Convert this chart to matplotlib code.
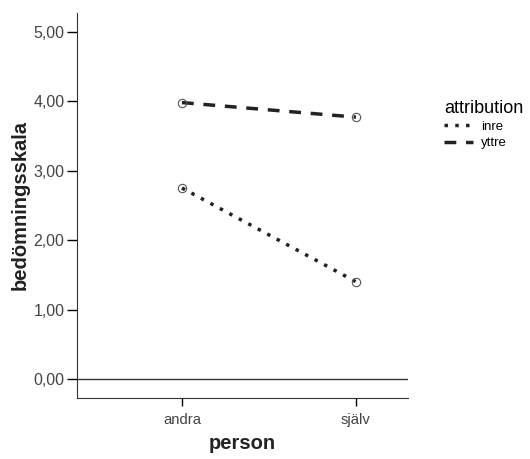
import matplotlib.pyplot as plt

plt.rcParams['font.family'] = ['Liberation Sans', 'DejaVu Sans']

persons = ["andra", "själv"]
inre = [2.75, 1.40]
yttre = [3.98, 3.77]
yticks = [0, 1, 2, 3, 4, 5]
ytick_labels = ["0,00", "1,00", "2,00", "3,00", "4,00", "5,00"]

fig = plt.figure(figsize=(5.3, 4.59), dpi=100)
ax = fig.add_axes([0.1453, 0.1329, 0.6245, 0.8388])

x = list(range(len(persons)))
ax.plot(x, inre, linestyle=(0, (1, 2.1)), color="#222222", linewidth=2.5,
        marker="o", markersize=6, markerfacecolor="none",
        markeredgecolor="#555555", markeredgewidth=0.8, label="inre")
ax.plot(x, yttre, linestyle=(0, (3.4, 2.8)), color="#222222", linewidth=2.5,
        marker="o", markersize=6, markerfacecolor="none",
        markeredgecolor="#555555", markeredgewidth=0.8, label="yttre")

ax.axhline(0, color="#333333", linewidth=1)
ax.set_xlim(-0.603, 1.299)
ax.set_ylim(-0.274, 5.27)
ax.set_xticks(x)
ax.set_xticklabels(persons, fontsize=10.7, color="#444444")
ax.set_yticks(yticks)
ax.set_yticklabels(ytick_labels, fontsize=11.5, color="#444444")
ax.tick_params(axis="y", length=7, width=1, pad=2)
ax.tick_params(axis="x", length=6, width=1, pad=5)

for s in ["top", "right"]:
    ax.spines[s].set_visible(False)
for s in ["left", "bottom"]:
    ax.spines[s].set_color("#333333")

ax.set_xlabel("person", fontsize=14.5, fontweight="bold", color="#222222", labelpad=5)
ax.set_ylabel("bedömningsskala", fontsize=14.5, fontweight="bold", color="#222222", labelpad=3)

leg = fig.legend(title="attribution", loc="upper left", bbox_to_anchor=(0.826, 0.797),
                 frameon=False, fontsize=9.5, title_fontsize=13,
                 handlelength=2.2, handletextpad=0.6, labelspacing=0.3,
                 borderpad=0)
leg._legend_box.align = "left"
for h in leg.legend_handles:
    h.set_marker("")
    h.set_linewidth(2.5)

fig.savefig("out.png", dpi=100)
